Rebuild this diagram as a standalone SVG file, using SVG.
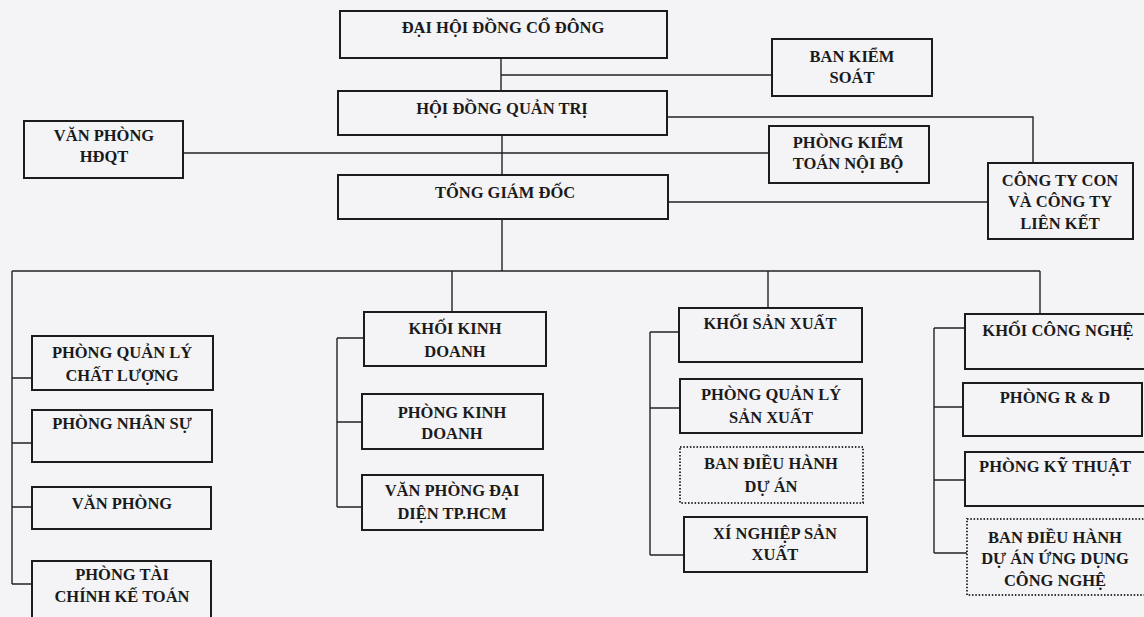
<svg xmlns="http://www.w3.org/2000/svg" width="1144" height="617" viewBox="0 0 1144 617">
<style>
.b{fill:none;stroke:#1c1c1c;stroke-width:2}
.d{fill:none;stroke:#333;stroke-width:2;stroke-dasharray:1.5 1.8}
.c{fill:none;stroke:#222;stroke-width:1.4}
text{font-family:"Liberation Serif","Times New Roman",serif;font-weight:bold;font-size:16.5px;fill:#1a1a1a;text-anchor:middle}
</style>
<rect width="1144" height="617" fill="#f4f4f7"/>
<g id="connectors">
<path class="c" d="M501 58V91M501 75H772M502 135V175M183 153H769M667 117H1033V163M668 202H988M502 219V271"/>
<path class="c" d="M12 271H1040M12 271V584M12 378H32M12 443H32M12 507H32M12 584H32"/>
<path class="c" d="M452 271V312M337 338V507M337 338H364M337 422H362M337 507H362"/>
<path class="c" d="M768 271V308M650 332V555M650 332H679M650 408H680M650 555H684"/>
<path class="c" d="M1040 271V314M934 328V553M934 328H965M934 407H963M934 480H965M934 553H967"/>
</g>
<g id="dhdcd"><rect class="b" x="340" y="11" width="327" height="47"/><text x="503" y="33">ĐẠI HỘI ĐỒNG CỔ ĐÔNG</text></g>
<g id="bks"><rect class="b" x="772" y="39" width="160" height="57"/><text x="852" y="62">BAN KIỂM</text><text x="852" y="83">SOÁT</text></g>
<g id="hdqt"><rect class="b" x="338" y="91" width="329" height="44"/><text x="502" y="114">HỘI ĐỒNG QUẢN TRỊ</text></g>
<g id="vphdqt"><rect class="b" x="24" y="121" width="159" height="57"/><text x="104" y="141">VĂN PHÒNG</text><text x="104" y="162">HĐQT</text></g>
<g id="pktnb"><rect class="b" x="769" y="126" width="160" height="57"/><text x="848" y="148">PHÒNG KIỂM</text><text x="848" y="169">TOÁN NỘI BỘ</text></g>
<g id="tgd"><rect class="b" x="338" y="175" width="330" height="44"/><text x="505" y="198">TỔNG GIÁM ĐỐC</text></g>
<g id="ctcon"><rect class="b" x="988" y="163" width="145" height="76"/><text x="1060" y="186">CÔNG TY CON</text><text x="1060" y="207">VÀ CÔNG TY</text><text x="1060" y="229">LIÊN KẾT</text></g>
<g id="pqlcl"><rect class="b" x="32" y="336" width="181" height="54"/><text x="122" y="358">PHÒNG QUẢN LÝ</text><text x="122" y="381">CHẤT LƯỢNG</text></g>
<g id="pns"><rect class="b" x="32" y="410" width="180" height="52"/><text x="122" y="429">PHÒNG NHÂN SỰ</text></g>
<g id="vp"><rect class="b" x="32" y="487" width="179" height="42"/><text x="122" y="509">VĂN PHÒNG</text></g>
<g id="ptckt"><rect class="b" x="32" y="561" width="179" height="62"/><text x="122" y="580">PHÒNG TÀI</text><text x="122" y="602">CHÍNH KẾ TOÁN</text></g>
<g id="kkd"><rect class="b" x="364" y="312" width="182" height="54"/><text x="455" y="334">KHỐI KINH</text><text x="455" y="357">DOANH</text></g>
<g id="pkd"><rect class="b" x="362" y="394" width="181" height="55"/><text x="452" y="418">PHÒNG KINH</text><text x="452" y="439">DOANH</text></g>
<g id="vpdd"><rect class="b" x="362" y="475" width="181" height="55"/><text x="452" y="496">VĂN PHÒNG ĐẠI</text><text x="452" y="519">DIỆN TP.HCM</text></g>
<g id="ksx"><rect class="b" x="679" y="308" width="183" height="54"/><text x="770" y="329">KHỐI SẢN XUẤT</text></g>
<g id="pqlsx"><rect class="b" x="680" y="379" width="182" height="54"/><text x="771" y="400">PHÒNG QUẢN LÝ</text><text x="771" y="423">SẢN XUẤT</text></g>
<g id="bdhda"><rect class="d" x="680" y="447" width="183" height="56"/><text x="771" y="469">BAN ĐIỀU HÀNH</text><text x="771" y="492">DỰ ÁN</text></g>
<g id="xnsx"><rect class="b" x="684" y="517" width="183" height="55"/><text x="775" y="539">XÍ NGHIỆP SẢN</text><text x="775" y="560">XUẤT</text></g>
<g id="kcn"><rect class="b" x="965" y="314" width="190" height="55"/><text x="1058" y="336">KHỐI CÔNG NGHỆ</text></g>
<g id="rd"><rect class="b" x="963" y="383" width="179" height="53"/><text x="1055" y="403">PHÒNG R &amp; D</text></g>
<g id="kt"><rect class="b" x="965" y="452" width="190" height="54"/><text x="1055" y="472">PHÒNG KỸ THUẬT</text></g>
<g id="bdhdaud"><rect class="d" x="967" y="519" width="188" height="76"/><text x="1055" y="543">BAN ĐIỀU HÀNH</text><text x="1055" y="564">DỰ ÁN ỨNG DỤNG</text><text x="1055" y="586">CÔNG NGHỆ</text></g>
</svg>
